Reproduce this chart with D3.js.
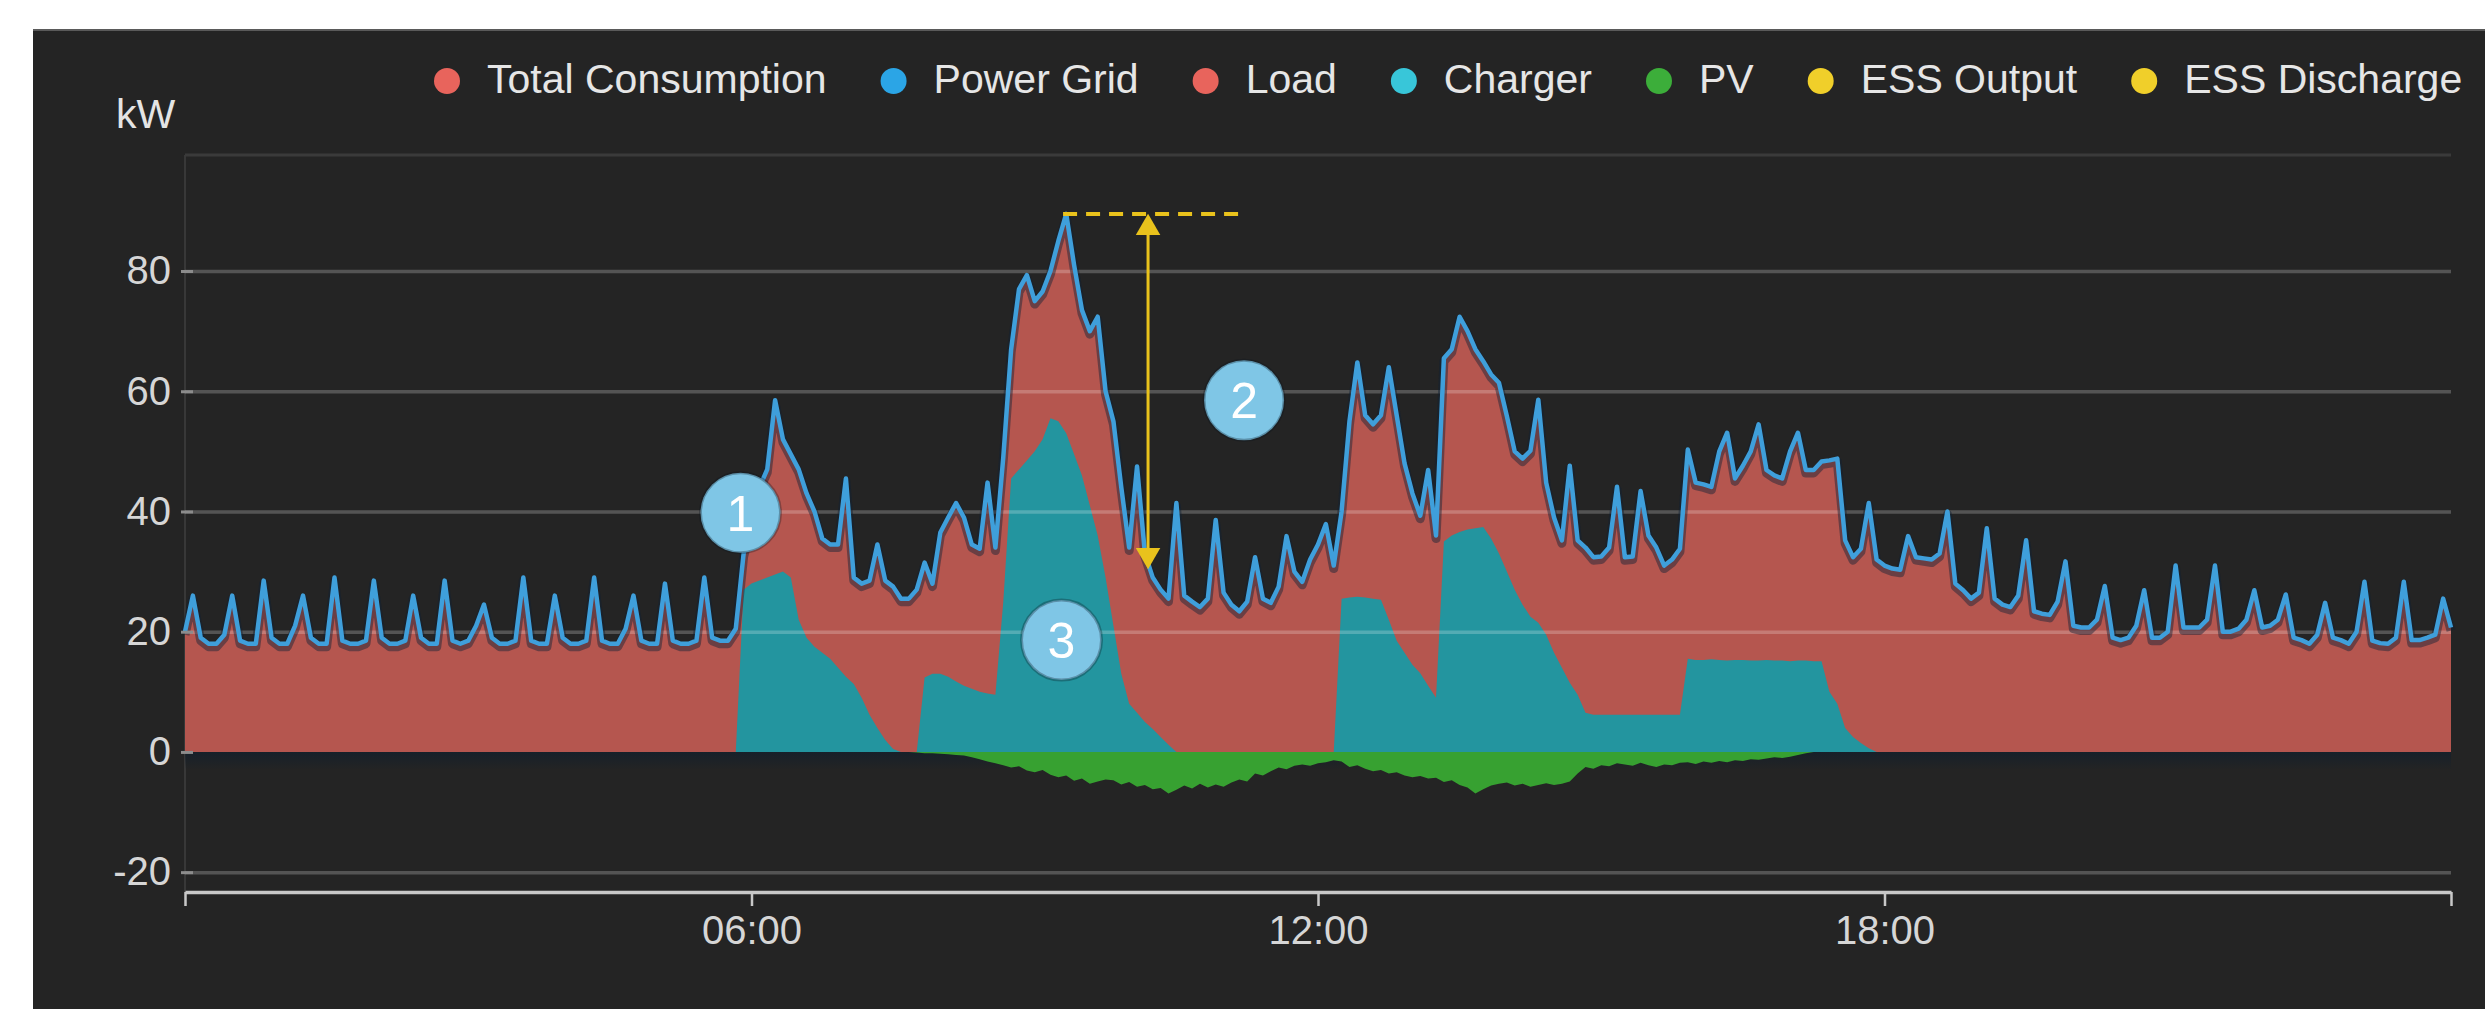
<!DOCTYPE html>
<html>
<head>
<meta charset="utf-8">
<script src="https://cdn.jsdelivr.net/npm/d3@7"></script>
<style>
  html, body { margin: 0; padding: 0; background: #fff; }
  svg { display: block; font-family: "Liberation Sans", Arial, sans-serif; }
</style>
</head>
<body>
<div id="chart"></div>
<script>
// one sample every 5 minutes, 00:00 .. 24:00 (minutes of day)
const minutes = d3.range(0, 1445, 5);

// kW
const totalConsumption = [
  20, 26, 19, 18, 18, 19.5, 26, 18.5, 18, 18,
  28.5, 19, 18, 18, 21, 26, 19, 18, 18, 29,
  18.5, 18, 18, 18.5, 28.5, 19, 18, 18, 18.5, 26,
  19, 18, 18, 28.5, 18.5, 18, 18.5, 21, 24.5, 19,
  18, 18, 18.5, 29, 18.5, 18, 18, 26, 19, 18,
  18, 18.5, 29, 18.5, 18, 18, 20.5, 26, 18.5, 18,
  18, 28, 18.5, 18, 18, 18.5, 29, 19, 18.5, 18.5,
  20.5, 33, 38, 44, 47, 58.5, 52, 49.5, 47, 43,
  40, 35.5, 34.5, 34.5, 45.5, 29, 28, 28.5, 34.5, 28.5,
  27.5, 25.5, 25.5, 27, 31.5, 28, 36.5, 39, 41.4, 39,
  34.5, 33.8, 44.8, 34, 49, 67, 77, 79.3, 75, 76.6,
  80, 85, 89.5, 81, 73.5, 70, 72.4, 60, 55, 44,
  34, 47.5, 33, 29, 27, 25.5, 41.4, 26, 25, 24.1,
  25.5, 38.6, 26.5, 24.5, 23.4, 25, 32.4, 25.5, 24.8, 27.5,
  35.9, 30, 28.3, 32, 34.5, 37.9, 31, 40, 55, 64.8,
  56, 54.5, 56, 64, 56, 48, 43, 39.3, 46.9, 36,
  65.5, 67, 72.4, 70, 67, 65, 62.8, 61.4, 55.9, 50,
  48.8, 50.1, 58.6, 44.8, 39, 35.2, 47.6, 35.2, 34, 32.4,
  32.5, 34, 44.1, 32.4, 32.5, 43.4, 36, 34, 31, 32,
  33.8, 50.3, 44.8, 44.5, 44.1, 50, 53.1, 45.5, 47.6, 50,
  54.5, 46.9, 46, 45.5, 50, 53.1, 46.9, 46.9, 48.3, 48.5,
  48.8, 35.2, 32.4, 33.8, 41.4, 32, 31, 30.5, 30.3, 35.9,
  32.4, 32.2, 32, 33, 40, 28, 26.9, 25.5, 26.5, 37.2,
  25.5, 24.5, 24.1, 26, 35.2, 23.4, 23, 22.8, 25, 31.7,
  21, 20.7, 20.7, 22, 27.6, 19, 18.6, 19, 21, 26.9,
  19, 19, 20, 31, 20.7, 20.7, 20.7, 22, 31, 20,
  20, 20.5, 22, 26.9, 20.7, 21, 22, 26.2, 19, 18.6,
  18, 19.5, 24.8, 19, 18.6, 18, 20, 28.3, 18.5, 18.1,
  18, 19, 28.3, 18.6, 18.6, 19, 19.5, 25.5, 20.7
];

// grid import follows consumption (no ESS output in this day)
const powerGrid = totalConsumption;

const chargerKw = [
  0, 0, 0, 0, 0, 0, 0, 0, 0, 0, 0, 0,            // 00h
  0, 0, 0, 0, 0, 0, 0, 0, 0, 0, 0, 0,            // 01h
  0, 0, 0, 0, 0, 0, 0, 0, 0, 0, 0, 0,            // 02h
  0, 0, 0, 0, 0, 0, 0, 0, 0, 0, 0, 0,            // 03h
  0, 0, 0, 0, 0, 0, 0, 0, 0, 0, 0, 0,            // 04h
  0, 0, 0, 0, 0, 0, 0, 0, 0, 0, 0, 27,           // 05h
  28, 28.5, 29, 29.5, 30, 29, 22, 19, 17.5, 16.5, 15.5, 14,   // 06h
  12.5, 11.3, 9, 6.2, 4, 2, 0.5, 0, 0, 0, 12.4, 13,           // 07h
  13, 12.5, 11.7, 11, 10.5, 10, 9.7, 9.5, 25, 45.5, 47, 48.5, // 08h
  50, 52, 55.5, 55, 53, 49.5, 46, 41, 36, 29, 21, 13,         // 09h
  8, 6.5, 5, 3.8, 2.5, 1.2, 0, 0, 0, 0, 0, 0,                 // 10h
  0, 0, 0, 0, 0, 0, 0, 0, 0, 0, 0, 0,                         // 11h
  0, 0, 0, 25.5, 25.7, 25.8, 25.7, 25.5, 25.3, 22, 18.5, 16.5, // 12h
  14.5, 13.1, 11, 9, 35, 36, 36.6, 37, 37.2, 37.4, 35.5, 33,  // 13h
  30, 27, 24.5, 22.5, 21.5, 19.5, 16.5, 14, 11.5, 9.5, 6.5, 6.2, // 14h
  6.2, 6.2, 6.2, 6.2, 6.2, 6.2, 6.2, 6.2, 6.2, 6.2, 6.2, 15.5, // 15h
  15.3, 15.3, 15.4, 15.3, 15.2, 15.3, 15.3, 15.2, 15.2, 15.3, 15.2, 15.2, // 16h
  15.1, 15.2, 15.2, 15.1, 15.1, 10, 8, 4, 2.5, 1.5, 0.6, 0,   // 17h
  0, 0, 0, 0, 0, 0, 0, 0, 0, 0, 0, 0,            // 18h
  0, 0, 0, 0, 0, 0, 0, 0, 0, 0, 0, 0,            // 19h
  0, 0, 0, 0, 0, 0, 0, 0, 0, 0, 0, 0,            // 20h
  0, 0, 0, 0, 0, 0, 0, 0, 0, 0, 0, 0,            // 21h
  0, 0, 0, 0, 0, 0, 0, 0, 0, 0, 0, 0,            // 22h
  0, 0, 0, 0, 0, 0, 0, 0, 0, 0, 0, 0,            // 23h
  0
];

const pvKw = [
  0, 0, 0, 0, 0, 0, 0, 0, 0, 0, 0, 0,            // 00h
  0, 0, 0, 0, 0, 0, 0, 0, 0, 0, 0, 0,            // 01h
  0, 0, 0, 0, 0, 0, 0, 0, 0, 0, 0, 0,            // 02h
  0, 0, 0, 0, 0, 0, 0, 0, 0, 0, 0, 0,            // 03h
  0, 0, 0, 0, 0, 0, 0, 0, 0, 0, 0, 0,            // 04h
  0, 0, 0, 0, 0, 0, 0, 0, 0, 0, 0, 0,            // 05h
  0, 0, 0, 0, 0, 0, 0, 0, 0, 0, 0, 0,            // 06h
  0, 0, 0, 0, 0, 0, 0, 0, 0, -0.1, -0.2, -0.2,   // 07h
  -0.3, -0.4, -0.5, -0.6, -0.9, -1.2, -1.6, -1.9, -2.2, -2.6, -2.4, -3.1, // 08h
  -3.4, -3, -3.8, -4.2, -3.9, -4.8, -4.4, -5.3, -4.9, -4.6, -4.7, -5.4,   // 09h
  -5, -5.8, -5.5, -6.2, -6, -6.9, -6.3, -5.6, -6.1, -5.3, -5.9, -5.4,     // 10h
  -5.8, -5.1, -4.6, -4.9, -3.6, -3.9, -3.2, -2.6, -2.9, -2.3, -2.1, -2.3, // 11h
  -1.9, -1.7, -1.4, -1.6, -2.5, -2.2, -2.8, -3.2, -3, -3.6, -3.4, -3.9,   // 12h
  -4.2, -4, -4.4, -4.3, -5, -4.7, -5.5, -5.9, -6.9, -6.2, -5.6, -5.3,     // 13h
  -5.1, -5.6, -5.3, -5.8, -5.5, -5.2, -5.5, -5.3, -4.9, -3.6, -2.5, -2.8, // 14h
  -2.2, -2.4, -1.9, -2.1, -2.3, -1.8, -2.2, -2.5, -2.1, -2.2, -1.8, -1.7, // 15h
  -2, -1.6, -1.8, -1.5, -1.7, -1.4, -1.5, -1.2, -1.3, -1.1, -0.9, -1,     // 16h
  -0.8, -0.5, -0.2, 0, 0, 0, 0, 0, 0, 0, 0, 0,   // 17h
  0, 0, 0, 0, 0, 0, 0, 0, 0, 0, 0, 0,            // 18h
  0, 0, 0, 0, 0, 0, 0, 0, 0, 0, 0, 0,            // 19h
  0, 0, 0, 0, 0, 0, 0, 0, 0, 0, 0, 0,            // 20h
  0, 0, 0, 0, 0, 0, 0, 0, 0, 0, 0, 0,            // 21h
  0, 0, 0, 0, 0, 0, 0, 0, 0, 0, 0, 0,            // 22h
  0, 0, 0, 0, 0, 0, 0, 0, 0, 0, 0, 0,            // 23h
  0
];

const legendNames = ['Total Consumption', 'Power Grid', 'Load', 'Charger', 'PV', 'ESS Output', 'ESS Discharge'];
const yTicks = [-20, 0, 20, 40, 60, 80];
const xTicks = [0, 360, 720, 1080, 1440];

// numbered call-outs: [label, minute of day, kW]
const callouts = [['1', 353, 39.8], ['3', 557, 18.6], ['2', 673, 58.5]];
// peak-shaving arrow: peak time/value, arrow time, dashed end time, lower value
const peakMinute = 558, peakKw = 89.5, arrowMinute = 612, dashEndMinute = 672, shavedKw = 30.4;

const legendColors = ['#e8645c', '#2ba5e6', '#e8645c', '#38c6d9', '#3cae3a', '#f0cf2a', '#f0cf2a'];
const colors = { load: '#b5564f', charger: '#23959f', pv: '#37a131', grid: '#3f9fdb', note: '#e9c21c' };

const width = 2485, height = 1009;
const plot = { left: 185, right: 2451, top: 155, bottom: 892 };

const svg = d3.select('#chart').append('svg')
    .attr('width', width)
    .attr('height', height);

svg.append('rect').attr('width', width).attr('height', height).attr('fill', '#fff');
svg.append('rect')
    .attr('x', 33).attr('y', 29)
    .attr('width', width - 33).attr('height', height - 29)
    .attr('fill', '#242424');
svg.append('line')
    .attr('x1', 33).attr('x2', width).attr('y1', 30).attr('y2', 30)
    .attr('stroke', '#5a5a5a').attr('stroke-width', 2);

const x = d3.scaleLinear().domain([0, 1440]).range([plot.left, plot.right]);
const y = d3.scaleLinear().domain([-23.3, 99.3]).range([plot.bottom, plot.top]);

const defs = svg.append('defs');
const shade = defs.append('linearGradient').attr('id', 'zeroShade')
    .attr('x1', 0).attr('x2', 0).attr('y1', 0).attr('y2', 1);
shade.append('stop').attr('offset', '0%').attr('stop-color', '#16202a').attr('stop-opacity', 0.95);
shade.append('stop').attr('offset', '100%').attr('stop-color', '#16202a').attr('stop-opacity', 0);

// faint y axis line and top border of the grid
svg.append('line')
    .attr('x1', plot.left).attr('x2', plot.left)
    .attr('y1', plot.top).attr('y2', plot.bottom)
    .attr('stroke', '#383838').attr('stroke-width', 2);
svg.append('line')
    .attr('x1', plot.left).attr('x2', plot.right)
    .attr('y1', y.range()[1]).attr('y2', y.range()[1])
    .attr('stroke', '#3a3a3a').attr('stroke-width', 3);

// dark band just below zero
svg.append('rect')
    .attr('x', plot.left).attr('y', y(0))
    .attr('width', plot.right - plot.left).attr('height', 18)
    .attr('fill', 'url(#zeroShade)');

const areaOf = vals => d3.area()
    .x((d, i) => x(minutes[i]))
    .y0(y(0))
    .y1(d => y(d))(vals);

svg.append('path').attr('d', areaOf(totalConsumption)).attr('fill', colors.load);
svg.append('path').attr('d', areaOf(chargerKw)).attr('fill', colors.charger);
svg.append('path').attr('d', areaOf(pvKw)).attr('fill', colors.pv);

// grid lines (drawn over the areas, lightly)
const grid = svg.append('g')
    .attr('transform', `translate(${plot.left},0)`)
    .call(d3.axisLeft(y).tickValues(yTicks.filter(v => v !== 0)).tickSize(-(plot.right - plot.left)).tickFormat(''));
grid.select('.domain').remove();
grid.selectAll('line').attr('stroke', '#fff').attr('stroke-opacity', 0.22).attr('stroke-width', 3.5);

// power grid line
const gridLine = d3.line().x((d, i) => x(minutes[i])).y(d => y(d));
svg.append('path')
    .attr('d', gridLine(powerGrid))
    .attr('fill', 'none')
    .attr('stroke', '#102236').attr('stroke-opacity', 0.45)
    .attr('stroke-width', 9).attr('stroke-linejoin', 'round')
    .attr('transform', 'translate(0,3)');
svg.append('path')
    .attr('d', gridLine(powerGrid))
    .attr('fill', 'none')
    .attr('stroke', colors.grid)
    .attr('stroke-width', 4.5).attr('stroke-linejoin', 'round');

// y axis labels + small ticks
const yAxis = svg.append('g')
    .attr('transform', `translate(${plot.left + 8},0)`)
    .call(d3.axisLeft(y).tickValues(yTicks).tickSize(12).tickPadding(10).tickFormat(v => String(v)));
yAxis.select('.domain').remove();
yAxis.selectAll('line').attr('stroke', '#8c8c8c').attr('stroke-width', 3);
yAxis.selectAll('text')
    .attr('fill', '#d6d6d6')
    .style('font-size', '40px')
    .style('font-family', '"Liberation Sans", Arial, sans-serif');

// x axis
const xAxis = svg.append('g')
    .attr('transform', `translate(0,${plot.bottom})`)
    .call(d3.axisBottom(x)
        .tickValues(xTicks)
        .tickSize(14)
        .tickSizeOuter(0)
        .tickPadding(10)
        .tickFormat(m => (m === 0 || m === 1440) ? '' : d3.format('02')(m / 60) + ':00'));
xAxis.select('.domain').attr('stroke', '#c8c8c8').attr('stroke-width', 3.5);
xAxis.selectAll('line').attr('stroke', '#c8c8c8').attr('stroke-width', 2.5);
xAxis.selectAll('text')
    .attr('fill', '#d6d6d6')
    .style('font-size', '40px')
    .style('font-family', '"Liberation Sans", Arial, sans-serif');

// unit label
svg.append('text')
    .attr('x', 116).attr('y', 128)
    .attr('fill', '#e4e4e4')
    .style('font-size', '41px')
    .text('kW');

// legend
const legend = svg.append('g');
let cx = 447;
legendNames.forEach((name, i) => {
    legend.append('circle')
        .attr('cx', cx).attr('cy', 81).attr('r', 13)
        .attr('fill', legendColors[i]);
    const t = legend.append('text')
        .attr('x', cx + 40).attr('y', 93)
        .attr('fill', '#e6e6e6')
        .style('font-size', '41px')
        .text(name);
    cx += 40 + t.node().getComputedTextLength() + 67;
});

// peak-shaving annotation
svg.append('line')
    .attr('x1', x(peakMinute)).attr('x2', x(dashEndMinute))
    .attr('y1', y(peakKw)).attr('y2', y(peakKw))
    .attr('stroke', colors.note).attr('stroke-width', 4)
    .attr('stroke-dasharray', '14 9');
svg.append('line')
    .attr('x1', x(arrowMinute)).attr('x2', x(arrowMinute))
    .attr('y1', y(peakKw) + 10).attr('y2', y(shavedKw) - 10)
    .attr('stroke', colors.note).attr('stroke-width', 3);
const tri = d3.symbol().type(d3.symbolTriangle).size(260);
svg.append('path')
    .attr('d', tri())
    .attr('transform', `translate(${x(arrowMinute)},${y(peakKw) + 14})`)
    .attr('fill', colors.note);
svg.append('path')
    .attr('d', tri())
    .attr('transform', `translate(${x(arrowMinute)},${y(shavedKw) - 14}) rotate(180)`)
    .attr('fill', colors.note);

// numbered call-outs
const marks = svg.selectAll('.callout')
    .data(callouts)
    .enter()
    .append('g')
    .attr('class', 'callout')
    .attr('transform', d => `translate(${x(d[1])},${y(d[2])})`);
marks.append('circle')
    .attr('r', 40)
    .attr('fill', '#7fc6e6')
    .attr('stroke', 'rgba(10,20,30,0.3)')
    .attr('stroke-width', 3);
marks.append('text')
    .attr('text-anchor', 'middle')
    .attr('dy', '0.36em')
    .attr('fill', '#fff')
    .style('font-size', '50px')
    .text(d => d[0]);
</script>
</body>
</html>
